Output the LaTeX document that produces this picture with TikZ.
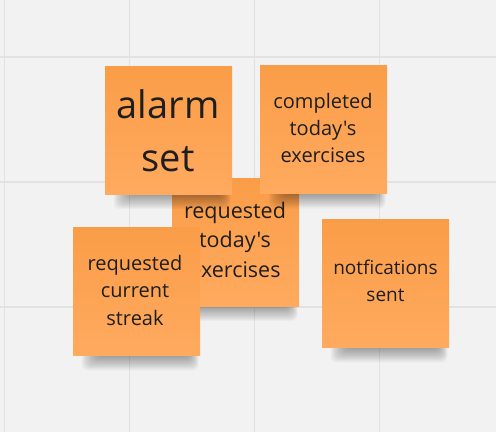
\documentclass[tikz,border=0pt]{standalone}
\usepackage{fontspec}
\setmainfont{Open Sans}[Ligatures=TeXOff]
\definecolor{bgcol}{RGB}{242,242,242}
\definecolor{gridcol}{RGB}{226,226,226}
\definecolor{notetop}{RGB}{250,157,72}
\definecolor{notebot}{RGB}{255,170,95}
\definecolor{txtcol}{RGB}{30,30,30}
\tikzset{
  note/.style={rectangle, inner sep=0pt, minimum width=127pt, minimum height=128pt,
    top color=notetop, bottom color=notebot, draw=none},
  notetext/.style={align=center, inner sep=0pt, text=txtcol},
  gridline/.style={draw=gridcol, line width=1.6pt},
  pics/noteshadow/.style={code={
    \foreach \k in {0,...,13}
      \fill[black, opacity=0.028, rounded corners=6pt] (-55+1.2*\k, 58) rectangle (62-0.7*\k, 79-1.1*\k);
  }}
}
\begin{document}
\begin{tikzpicture}[x=1pt,y=-1pt]
\fill[bgcol] (0,0) rectangle (496,432);
\useasboundingbox (0,0) rectangle (496,432);
% grid
\foreach \gx in {4.5,129.5,254.5,379.5} \draw[gridline] (\gx,0) -- (\gx,432);
\foreach \gy in {57,182,307} \draw[gridline] (0,\gy) -- (496,\gy);
% note positions
\coordinate (c1) at (168.5,130);
\coordinate (c2) at (323.5,129.5);
\coordinate (c3) at (235.5,242);
\coordinate (c4) at (136.5,291.5);
\coordinate (c5) at (385.5,283.5);
% notes
\pic at (c3) {noteshadow};
\node[note] (n3) at (c3) {};
\node[notetext, font=\fontsize{21.5}{29.5}\selectfont] (t3) at (235,239.5) {requested\\today's\\exercises};
\pic at (c1) {noteshadow};
\node[note] (n1) at (c1) {};
\node[notetext, font=\fontsize{38}{53}\selectfont] (t1) at (168,130.5) {alarm\\set};
\pic at (c2) {noteshadow};
\node[note] (n2) at (c2) {};
\node[notetext, font=\fontsize{20}{27}\selectfont] (t2) at (323,127.7) {completed\\today's\\exercises};
\pic at (c4) {noteshadow};
\node[note] (n4) at (c4) {};
\node[notetext, font=\fontsize{20}{27.5}\selectfont] (t4) at (135,290) {requested\\current\\streak};
\pic at (c5) {noteshadow};
\node[note] (n5) at (c5) {};
\node[notetext, font=\fontsize{19}{27}\selectfont] (t5) at (385.5,281) {notfications\\sent};
\end{tikzpicture}
\end{document}
